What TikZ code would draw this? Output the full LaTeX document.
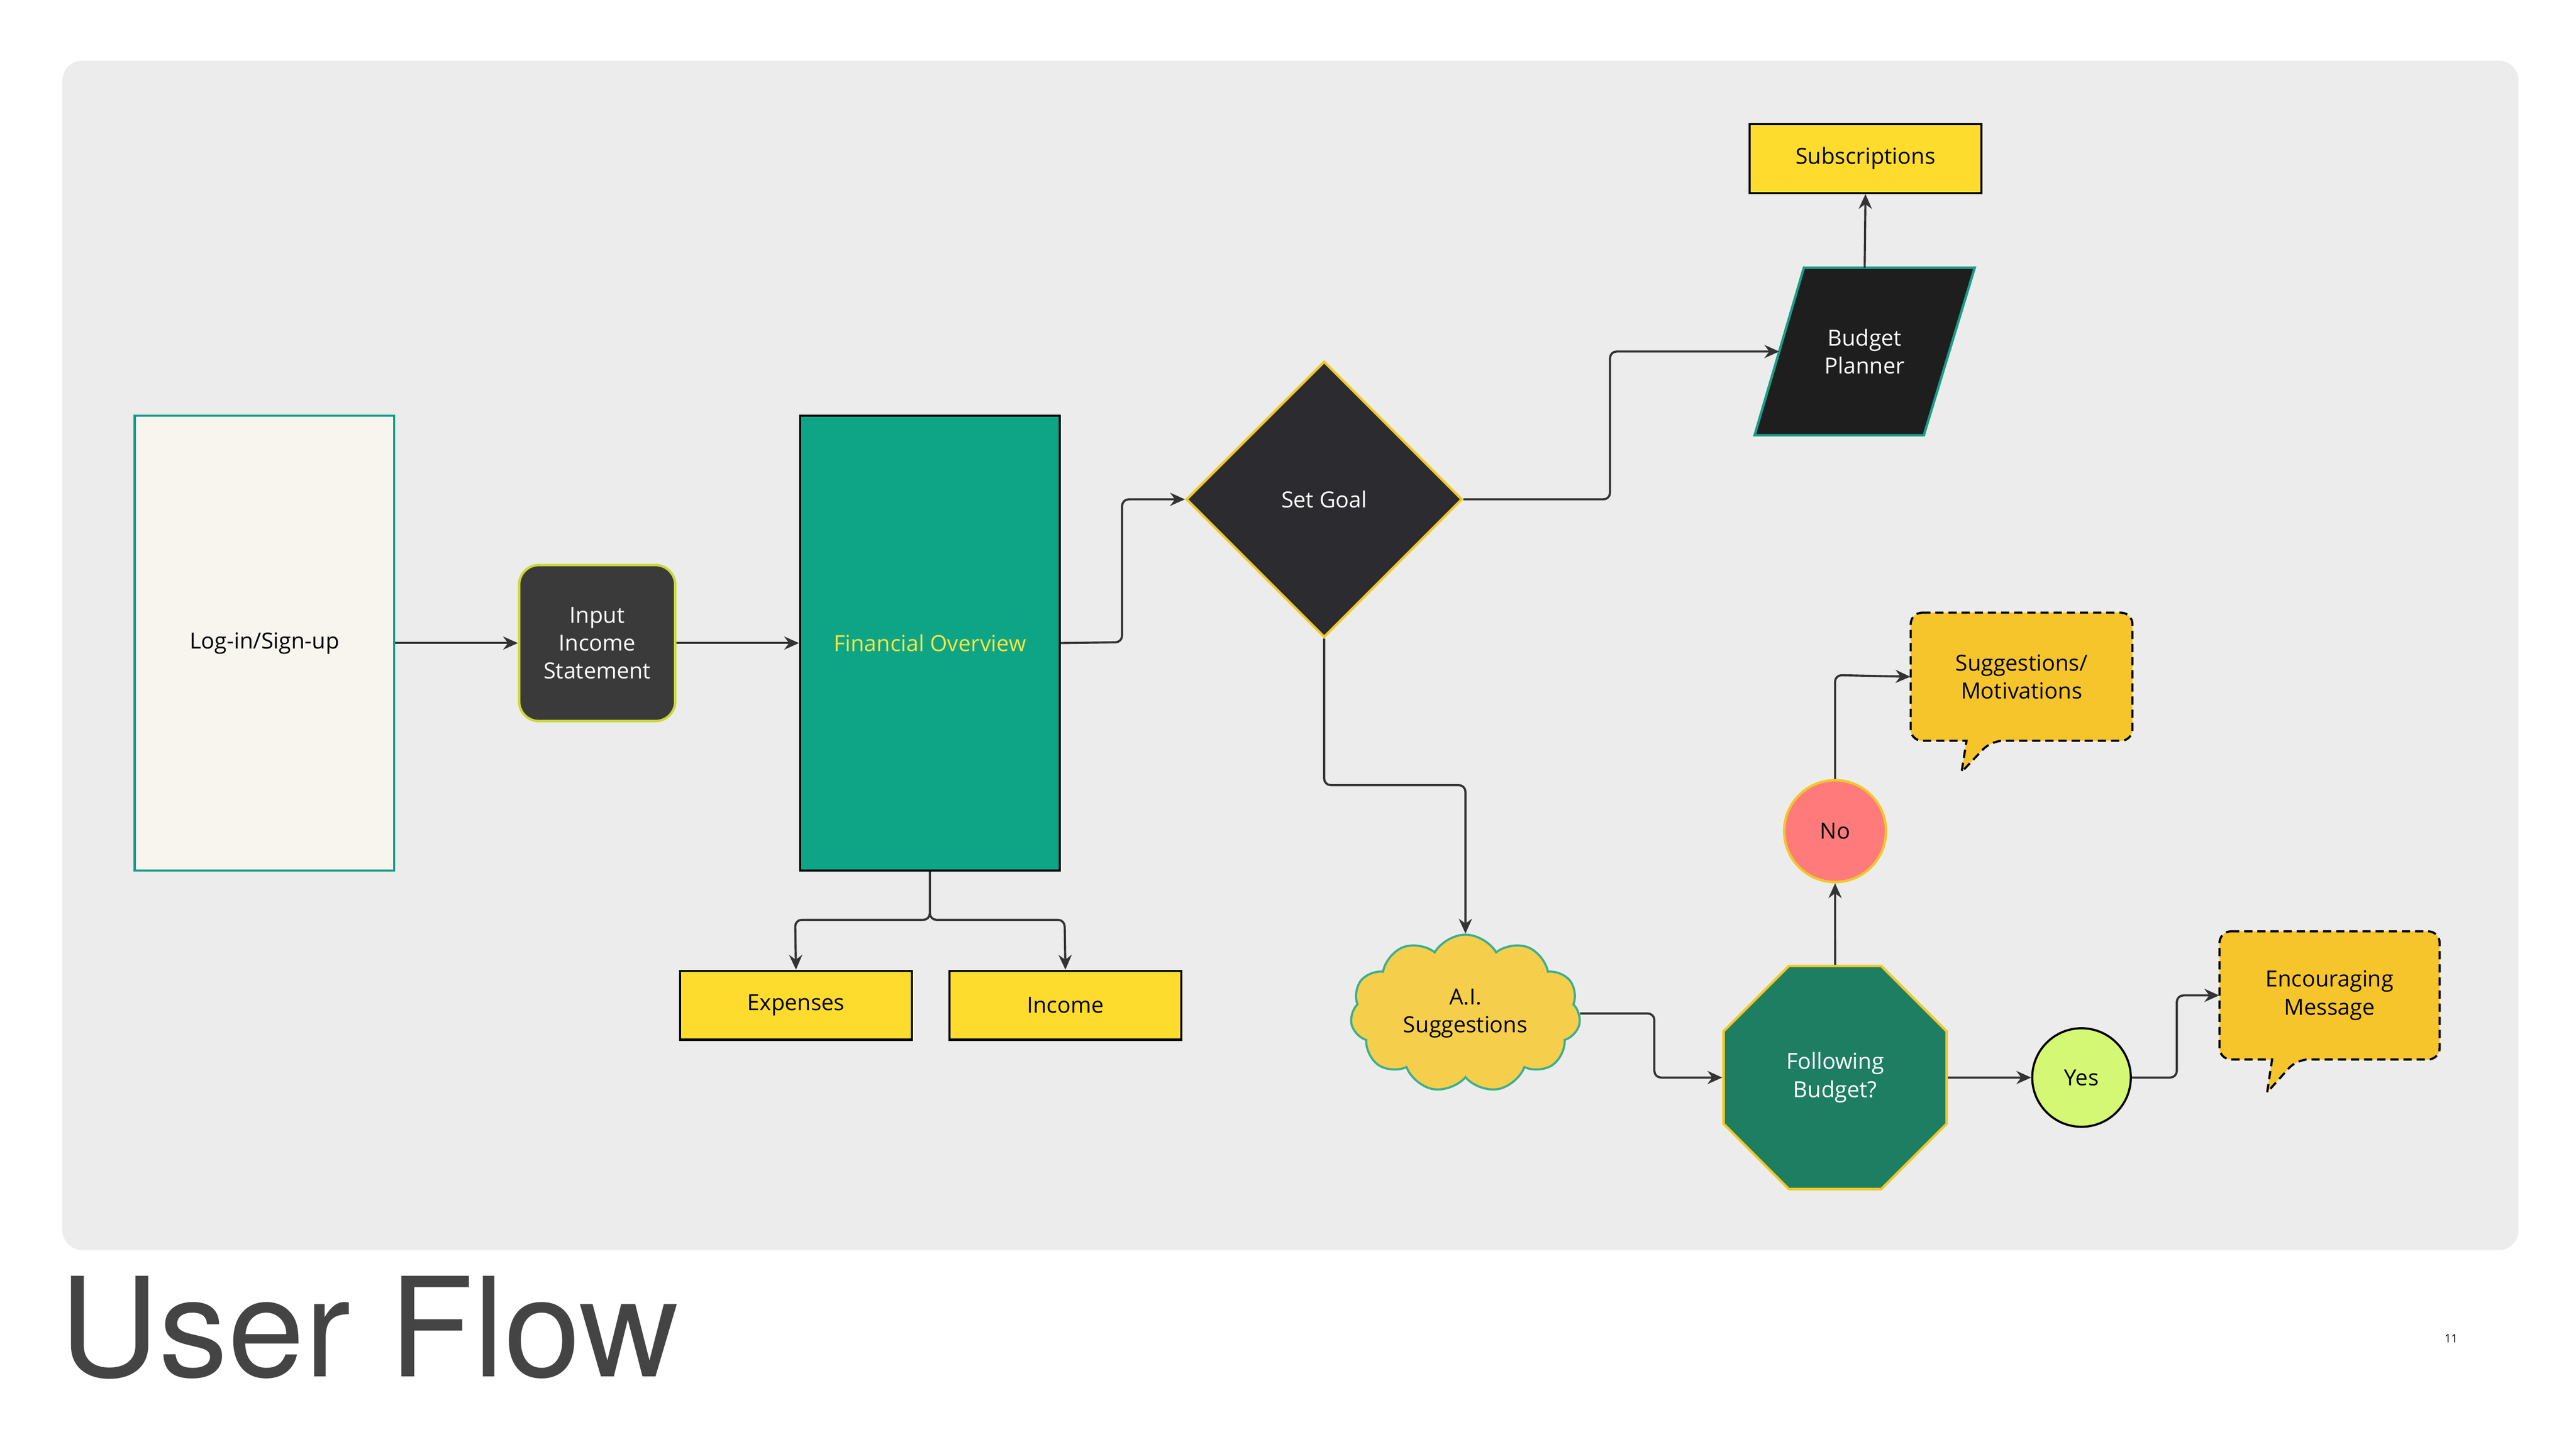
\documentclass[tikz,border=0pt]{standalone}
\usepackage{fontspec}
\setmainfont{Open Sans}
\newfontfamily\titlefont{TeX Gyre Heros}
\usetikzlibrary{shapes.geometric,shapes.symbols,arrows.meta}
\definecolor{panel}{HTML}{ECECEC}
\definecolor{teal}{HTML}{1A9E86}
\definecolor{ylw}{HTML}{FDDC2E}
\definecolor{gold}{HTML}{F5C52B}
\definecolor{conn}{HTML}{333333}
\definecolor{cream}{HTML}{F8F5EF}
\definecolor{lime}{HTML}{C8D93A}
\definecolor{dgray}{HTML}{3A3A3A}
\definecolor{green1}{HTML}{0EA586}
\definecolor{ytext}{HTML}{F5E642}
\definecolor{yborder}{HTML}{F0C828}
\definecolor{dia}{HTML}{2B2B30}
\definecolor{blk}{HTML}{1E1E1E}
\definecolor{cloudb}{HTML}{3BAF8F}
\definecolor{cloudf}{HTML}{F5CF4B}
\definecolor{octf}{HTML}{1E7E62}
\definecolor{nof}{HTML}{FF7B7B}
\definecolor{yesf}{HTML}{D4F774}
\definecolor{titlec}{HTML}{444444}
\begin{document}
\begin{tikzpicture}[x=1pt,y=-1pt,
  every node/.style={font=\fontsize{13.5}{17}\selectfont, align=center, inner sep=0pt},
  box/.style={draw=black, line width=1.3pt, fill=ylw, minimum width=141pt, minimum height=42pt},
  arr/.style={draw=conn, line width=1.3pt, -{Stealth[length=9pt,width=8pt]}, rounded corners=4pt},
  callout/.style={draw=black, line width=1.3pt, dash pattern=on 5pt off 3pt, fill=gold}]
\useasboundingbox (0,0) rectangle (1568,882);
\fill[white] (0,0) rectangle (1568,882);
\fill[panel, rounded corners=12pt] (38,37) rectangle (1533,761);
% nodes
\node[draw=teal, line width=1.3pt, fill=cream, minimum width=158pt, minimum height=277pt] (login) at (161,391.5) {Log-in/Sign-up};
\node[draw=lime, line width=1.5pt, fill=dgray, text=white, rounded corners=12pt, minimum width=95pt, minimum height=95pt] (input) at (363.5,391.5) {Input\\Income\\Statement};
\node[draw=black, line width=1.3pt, fill=green1, text=ytext, minimum width=158pt, minimum height=277pt] (fo) at (566,391.5) {Financial Overview};
\node[box] (exp) at (484.5,612) {Expenses};
\node[box] (inc) at (648.5,612) {Income};
\node[diamond, draw=yborder, line width=1.5pt, fill=dia, text=white, minimum width=168pt, minimum height=168pt] (goal) at (806,304) {Set Goal};
\fill[blk] (1098,163) -- (1202,163) -- (1171,265) -- (1068,265) -- cycle;
\draw[teal, line width=1.5pt] (1098,163) -- (1202,163) -- (1171,265) -- (1068,265) -- cycle;
\node[text=white] (bp) at (1135,214) {Budget\\Planner};
\coordinate (bpl) at (1083,214);
\coordinate (bpt) at (1135,163);
\node[box] (sub) at (1135.5,96.5) {Subscriptions};
\node[cloud, cloud puffs=11, cloud puff arc=120, aspect=1.5, draw=cloudb, line width=1.3pt, fill=cloudf, minimum width=140pt, minimum height=96pt] (ai) at (892,617) {A.I.\\Suggestions};
\node[regular polygon, regular polygon sides=8, draw=yborder, line width=1.5pt, fill=octf, text=white, minimum size=147pt] (fb) at (1117,656) {Following\\Budget?};
\node[circle, draw=yborder, line width=1.5pt, fill=nof, minimum size=62pt] (no) at (1117,506) {No};
\node[circle, draw=black, line width=1.3pt, fill=yesf, minimum size=60pt] (yes) at (1267,656) {Yes};
\draw[callout, rounded corners=7pt] (1163,373) -- (1298,373) -- (1298,451) -- (1212,451) [sharp corners] -- (1194,470) -- (1197,451) [rounded corners=7pt] -- (1163,451) -- cycle;
\node[minimum width=135pt, minimum height=78pt] (sm) at (1230.5,412) {Suggestions/\\Motivations};
\draw[callout, rounded corners=7pt] (1351,567) -- (1485,567) -- (1485,645) -- (1398,645) [sharp corners] -- (1380,665) -- (1383,645) [rounded corners=7pt] -- (1351,645) -- cycle;
\node[minimum width=134pt, minimum height=78pt] (em) at (1418,606) {Encouraging\\Message};
% connectors
\draw[arr] (login) -- (input);
\draw[arr] (input) -- (fo);
\draw[arr] (fo.east) -- (683,391) -- (683,304) -- (goal.west);
\draw[arr] (goal.east) -- (980,304) -- (980,214) -- (bpl);
\draw[arr] (bpt) -- (sub.south);
\draw[arr] (goal.south) -- (806,478) -- (892,478) -- (ai.north);
\draw[arr] (fo.south) -- (566,560) -- (484,560) -- (exp.north);
\draw[arr] (fo.south) -- (566,560) -- (648,560) -- (inc.north);
\draw[arr] (ai.east) -- (1007,617) -- (1007,656) -- (fb.west);
\draw[arr] (fb.north) -- (no.south);
\draw[arr] (no.north) -- (1117,411) -- (sm.west);
\draw[arr] (fb.east) -- (yes.west);
\draw[arr] (yes.east) -- (1325,656) -- (1325,606) -- (em.west);
% title
\node[anchor=base west, font=\titlefont\fontsize{84}{90}\selectfont, text=titlec] (title) at (36,838) {User Flow};
\node[font=\fontsize{7}{8}\selectfont] (pg) at (1492,815) {11};
\end{tikzpicture}
\end{document}
